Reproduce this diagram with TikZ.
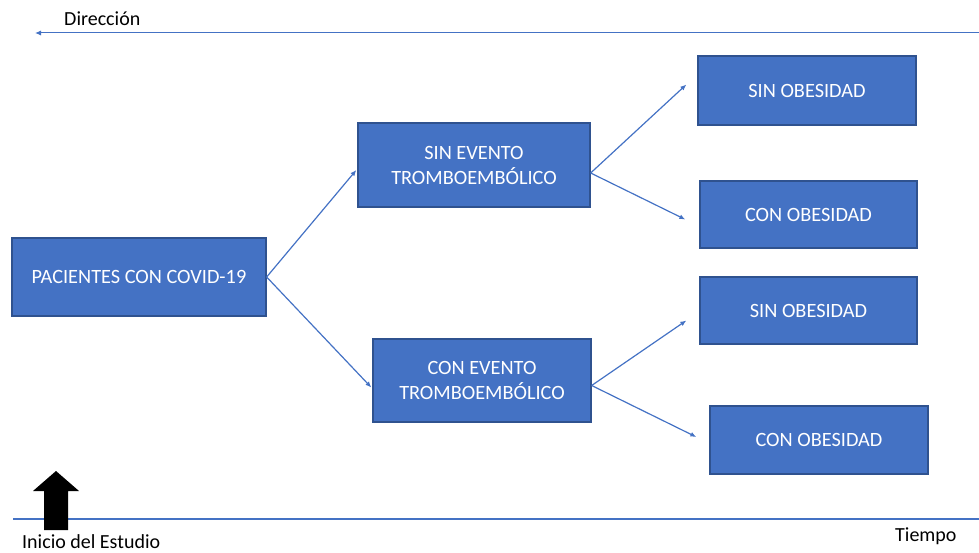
\documentclass[tikz,border=0pt]{standalone}
\usepackage{fontspec}
\setmainfont{Carlito}
\usepackage{xcolor}
\definecolor{colorBox}{HTML}{4472C4}
\definecolor{colorBorder}{HTML}{2F528F}
\colorlet{colorTransition}{colorBox}
\usepackage{tikz}
\usetikzlibrary{arrows.meta, positioning}
\tikzset{
  stagebox/.style={draw=colorBorder, line width=1.3pt, fill=colorBox, text=white,
    align=center, inner sep=0pt, font=\fontsize{20.3}{25}\selectfont},
  flow/.style={-{Latex[length=6pt,width=5pt]}, colorTransition, line width=1.2pt},
  timeline/.style={colorTransition, line width=1.2pt},
  plainlabel/.style={anchor=base west, inner sep=0pt, font=\fontsize{20}{24}\selectfont}
}
\begin{document}
\begin{tikzpicture}[x=1pt, y=-1pt]
\useasboundingbox (0,0) rectangle (979,553);
\node[stagebox, minimum width=254pt, minimum height=78pt] (pac) at (139,277) {PACIENTES CON COVID-19};
\node[stagebox, minimum width=232pt, minimum height=84pt] (sinev) at (474,165) {SIN EVENTO\\TROMBOEMBÓLICO};
\node[stagebox, minimum width=218pt, minimum height=83pt] (conev) at (482,380.5) {CON EVENTO\\TROMBOEMBÓLICO};
\node[stagebox, minimum width=218pt, minimum height=69pt] (sinob1) at (807,90.5) {SIN OBESIDAD};
\node[stagebox, minimum width=217pt, minimum height=67pt] (conob1) at (808.5,214.5) {CON OBESIDAD};
\node[stagebox, minimum width=217pt, minimum height=67pt] (sinob2) at (808.5,310.5) {SIN OBESIDAD};
\node[stagebox, minimum width=218pt, minimum height=68pt] (conob2) at (819,440) {CON OBESIDAD};
% connectors
\draw [flow] (pac.east) -- ([shift={(-1,5)}]sinev.west);
\draw [flow] (pac.east) -- ([shift={(-1,7)}]conev.west);
\draw [flow] ([yshift=-8]sinev.east) -- ([shift={(-11,-6)}]sinob1.west);
\draw [flow] ([yshift=-8]sinev.east) -- ([shift={(-14,5)}]conob1.west);
\draw [flow] ([yshift=-5]conev.east) -- ([shift={(-13,10)}]sinob2.west);
\draw [flow] ([yshift=-5]conev.east) -- ([shift={(-13,-3)}]conob2.west);
% direction and time
\coordinate (dirstart) at (979,33);
\coordinate (dirend) at (35,33);
\draw [flow, line width=1pt] (dirstart) -- (dirend);
\node[plainlabel] (dir) at (64,26) {Dirección};
\coordinate (timestart) at (13,519);
\coordinate (timeend) at (979,519);
\draw [timeline] (timestart) -- (timeend);
\node[plainlabel] (tiempo) at (895,541) {Tiempo};
\node[plainlabel] (inicio) at (22,548) {Inicio del Estudio};
% start marker
\fill[black] (44,530) -- (44,491) -- (33,491) -- (56,471) -- (79,491) -- (68,491) -- (68,530) -- cycle;
\end{tikzpicture}
\end{document}
